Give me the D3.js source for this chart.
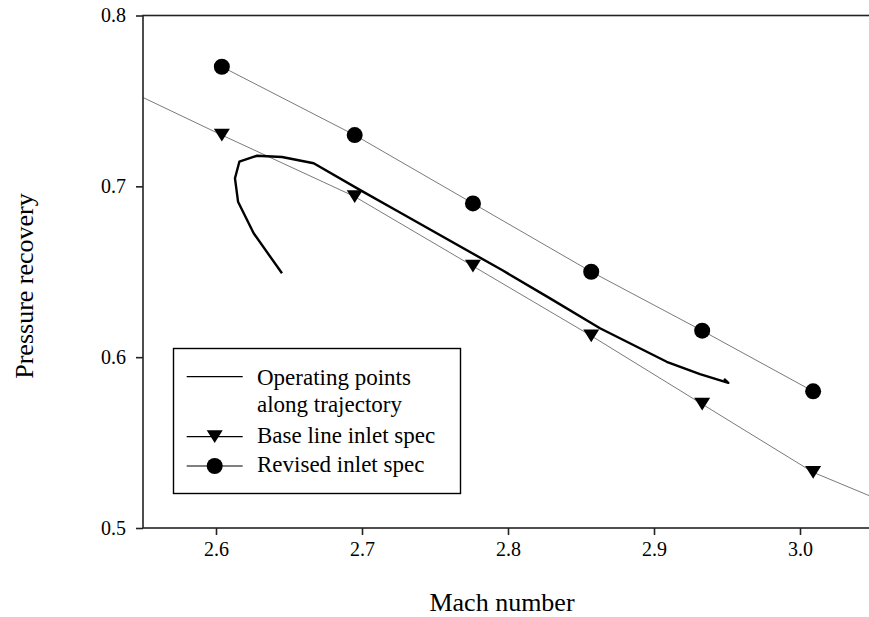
<!DOCTYPE html>
<html>
<head>
<meta charset="utf-8">
<script src="https://cdn.jsdelivr.net/npm/d3@7"></script>
<style>
  html, body { margin: 0; padding: 0; background: #fff; }
  svg { display: block; font-family: "Liberation Serif", "Times New Roman", serif; }
  svg text { font-family: "Liberation Serif", "Times New Roman", serif !important; }
</style>
</head>
<body>
<svg id="chart" width="869" height="617"></svg>
<script>
// revised inlet spec (circles)
let revisedMach = [2.604, 2.695, 2.776, 2.857, 2.933, 3.009];
let revisedRecovery = [0.770, 0.730, 0.690, 0.650, 0.6155, 0.580];

// base line inlet spec (triangles)
let baseMach = [2.604, 2.695, 2.776, 2.857, 2.933, 3.009];
let baseRecovery = [0.730, 0.694, 0.6533, 0.6125, 0.5725, 0.5326];

// thin fitted curve behind the triangles, runs across the whole frame
let baseFitMach = [2.55, 2.604, 2.695, 2.776, 2.857, 2.933, 3.009, 3.05];
let baseFitRecovery = [0.752, 0.730, 0.694, 0.6533, 0.6125, 0.5725, 0.5326, 0.518];

// operating points along trajectory
let trajMach = [2.6452, 2.6258, 2.6151, 2.6130, 2.6160, 2.6281, 2.6452, 2.6669,
  2.6988, 2.7251, 2.7959, 2.8288, 2.8630, 2.9087, 2.9315, 2.9509, 2.948];
let trajRecovery = [0.6491, 0.6725, 0.6910, 0.7047, 0.7144, 0.7179, 0.7172, 0.7135,
  0.6978, 0.6851, 0.6510, 0.6344, 0.6169, 0.5973, 0.5901, 0.5850, 0.5873];

let xTicks = [2.6, 2.7, 2.8, 2.9, 3.0];
let yTicks = [0.5, 0.6, 0.7, 0.8];

let legendLabels = [['Operating points', 'along trajectory'], ['Base line inlet spec'], ['Revised inlet spec']];

const SERIF = '"Liberation Serif", "Times New Roman", serif';
const FONT_TICK = 20;
const FONT_TITLE = 26;
const FONT_LEGEND = 23;

let svg = d3.select('svg#chart');

let x = d3.scaleLinear().domain([2.55, 3.05]).range([143, 873]);
let y = d3.scaleLinear().domain([0.5, 0.8]).range([528, 15.5]);

let zip = (xs, ys) => xs.map((v, i) => [v, ys[i]]);
let line = d3.line().x(d => x(d[0])).y(d => y(d[1]));

function triangle(size) {
  // downward pointing, centred on the point
  let w = size, h = size * 0.8;
  return `M${-w},${-h}L${w},${-h}L0,${h}Z`;
}

// thin lines
svg.append('path')
  .attr('d', line(zip(baseFitMach, baseFitRecovery)))
  .style('fill', 'none')
  .style('stroke', '#7a7a7a')
  .style('stroke-width', 1);

svg.append('path')
  .attr('d', line(zip(revisedMach, revisedRecovery)))
  .style('fill', 'none')
  .style('stroke', '#7a7a7a')
  .style('stroke-width', 1);

// trajectory
svg.append('path')
  .attr('d', line(zip(trajMach, trajRecovery)))
  .style('fill', 'none')
  .style('stroke', '#000')
  .style('stroke-width', 2.4)
  .style('stroke-linejoin', 'round');

svg.selectAll('path.tri')
  .data(zip(baseMach, baseRecovery))
  .join('path')
  .attr('class', 'tri')
  .attr('transform', d => `translate(${x(d[0])},${y(d[1])})`)
  .attr('d', triangle(8))
  .style('fill', '#000');

svg.selectAll('circle.rev')
  .data(zip(revisedMach, revisedRecovery))
  .join('circle')
  .attr('class', 'rev')
  .attr('cx', d => x(d[0]))
  .attr('cy', d => y(d[1]))
  .attr('r', 8)
  .style('fill', '#000');

// frame - right side falls off the picture
svg.append('rect')
  .attr('x', x.range()[0])
  .attr('y', y.range()[1])
  .attr('width', x.range()[1] - x.range()[0])
  .attr('height', y.range()[0] - y.range()[1])
  .style('fill', 'none')
  .style('stroke', '#222')
  .style('stroke-width', 1.6);

let xAxis = svg.append('g')
  .attr('transform', `translate(0,${y.range()[0]})`)
  .call(d3.axisBottom(x).tickValues(xTicks).tickFormat(d3.format('.1f')).tickSize(7).tickSizeOuter(0));

let yAxis = svg.append('g')
  .attr('transform', `translate(${x.range()[0]},0)`)
  .call(d3.axisLeft(y).tickValues(yTicks).tickFormat(d3.format('.1f')).tickSize(7).tickSizeOuter(0));

for (let ax of [xAxis, yAxis]) {
  ax.attr('font-family', SERIF).attr('font-size', FONT_TICK);
  ax.select('.domain').remove();
  ax.selectAll('line').style('stroke', '#222').style('stroke-width', 1.6);
  ax.selectAll('text')
    .style('font-family', SERIF)
    .style('font-size', FONT_TICK + 'px')
    .style('fill', '#000');
}
xAxis.selectAll('text').attr('y', 14).attr('dy', '0.71em');
yAxis.selectAll('text').attr('x', -17);

svg.append('text')
  .attr('x', 502)
  .attr('y', 611)
  .attr('text-anchor', 'middle')
  .style('font-size', FONT_TITLE + 'px')
  .text('Mach number');

svg.append('text')
  .attr('transform', 'translate(33,286) rotate(-90)')
  .attr('text-anchor', 'middle')
  .style('font-size', FONT_TITLE + 'px')
  .text('Pressure recovery');

// legend
let legend = svg.append('g');
legend.append('rect')
  .attr('x', 173.5)
  .attr('y', 348.5)
  .attr('width', 287)
  .attr('height', 145)
  .style('fill', '#fff')
  .style('stroke', '#000')
  .style('stroke-width', 1.4);

let rowY = [376.7, 436.7, 466];
let rowBaseline = [[385, 411.7], [442.7], [471.7]];
rowY.forEach((ry, i) => {
  legend.append('line')
    .attr('x1', 186.7).attr('x2', 242.7)
    .attr('y1', ry).attr('y2', ry)
    .style('stroke', '#000')
    .style('stroke-width', 1.2);
  if (i === 1) {
    legend.append('path')
      .attr('transform', `translate(214.7,${ry})`)
      .attr('d', triangle(8))
      .style('fill', '#000');
  }
  if (i === 2) {
    legend.append('circle')
      .attr('cx', 214.7).attr('cy', ry).attr('r', 8)
      .style('fill', '#000');
  }
  legendLabels[i].forEach((t, j) => {
    legend.append('text')
      .attr('x', 257)
      .attr('y', rowBaseline[i][j])
      .style('font-size', FONT_LEGEND + 'px')
      .text(t);
  });
});
</script>
</body>
</html>
